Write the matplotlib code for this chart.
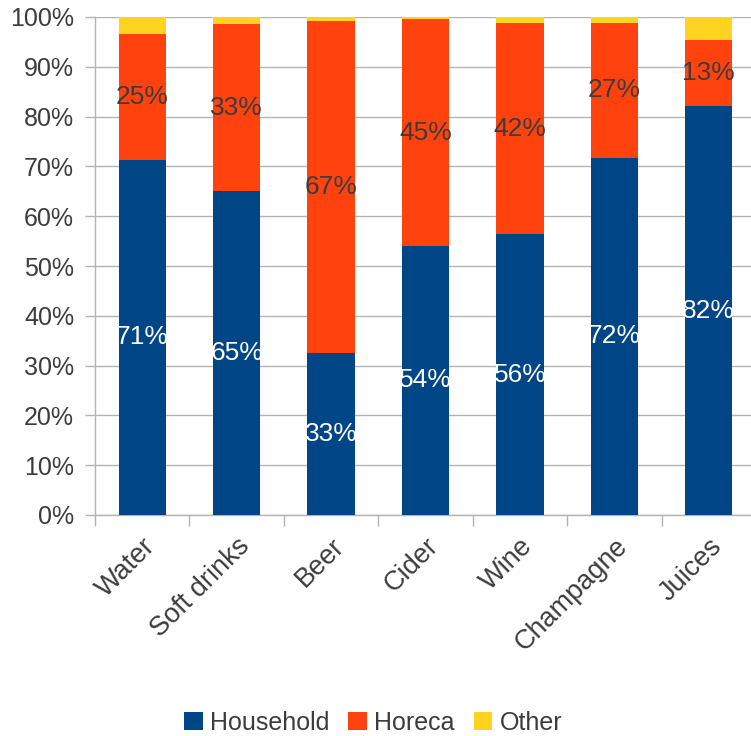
import matplotlib.pyplot as plt
from matplotlib.patches import Patch

plt.rcParams['font.family'] = ['Liberation Sans', 'DejaVu Sans']

# data (percent of volume)
categories = ['Water', 'Soft drinks', 'Beer', 'Cider', 'Wine', 'Champagne', 'Juices']
household = [71.3, 65.1, 32.6, 54.1, 56.4, 71.7, 82.1]
horeca = [25.3, 33.4, 66.6, 45.4, 42.4, 27.1, 13.3]
other = [3.4, 1.5, 0.8, 0.5, 1.2, 1.2, 4.6]
series_names = ['Household', 'Horeca', 'Other']
colors = ['#004586', '#ff420e', '#ffd320']

text_col = '#3c3c3c'
grid_col = '#b3b3b3'

fig = plt.figure(figsize=(7.51, 7.36), dpi=100)
ax = fig.add_axes([95 / 751, 221 / 736, 661 / 751, 498 / 736])

x = list(range(len(categories)))
w = 0.5
ax.bar(x, household, w, color=colors[0], zorder=3)
ax.bar(x, horeca, w, bottom=household, color=colors[1], zorder=3)
bottom3 = [h + r for h, r in zip(household, horeca)]
ax.bar(x, other, w, bottom=bottom3, color=colors[2], zorder=3)

# value labels
for i in x:
    ax.text(i, household[i] / 2, f'{round(household[i])}%', ha='center', va='center',
            color='white', fontsize=19, zorder=4)
    ax.text(i, household[i] + horeca[i] / 2, f'{round(horeca[i])}%', ha='center',
            va='center', color=text_col, fontsize=19, zorder=4)

ax.set_xlim(-0.5, len(categories) - 0.5)
ax.set_ylim(0, 100)
ax.set_yticks(range(0, 101, 10))
ax.set_yticklabels([f'{v}%' for v in range(0, 101, 10)])
ax.yaxis.grid(True, color=grid_col, linewidth=1, zorder=0)

ax.set_xticks(x)
ax.set_xticklabels(categories, rotation=45, ha='right', rotation_mode='anchor')
ax.set_xticks([i - 0.5 for i in range(len(categories) + 1)], minor=True)
ax.tick_params(axis='x', which='major', length=0, pad=13, labelsize=19.5, labelcolor=text_col)
ax.tick_params(axis='x', which='minor', length=8, color=grid_col, width=1)
ax.tick_params(axis='y', length=7, color=grid_col, width=1, pad=8, labelsize=18,
               labelcolor=text_col)

for s in ['top', 'right']:
    ax.spines[s].set_visible(False)
for s in ['left', 'bottom']:
    ax.spines[s].set_color(grid_col)
    ax.spines[s].set_linewidth(1)

handles = [Patch(facecolor=c, edgecolor='none') for c in colors]
fig.legend(handles, series_names, loc='center', bbox_to_anchor=(0.497, 1 - 723 / 736),
           ncol=3, frameon=False, fontsize=18, handlelength=0.75, handleheight=0.75,
           handletextpad=0.3, columnspacing=0.75, labelcolor=text_col)

fig.savefig('out.png', dpi=100)
